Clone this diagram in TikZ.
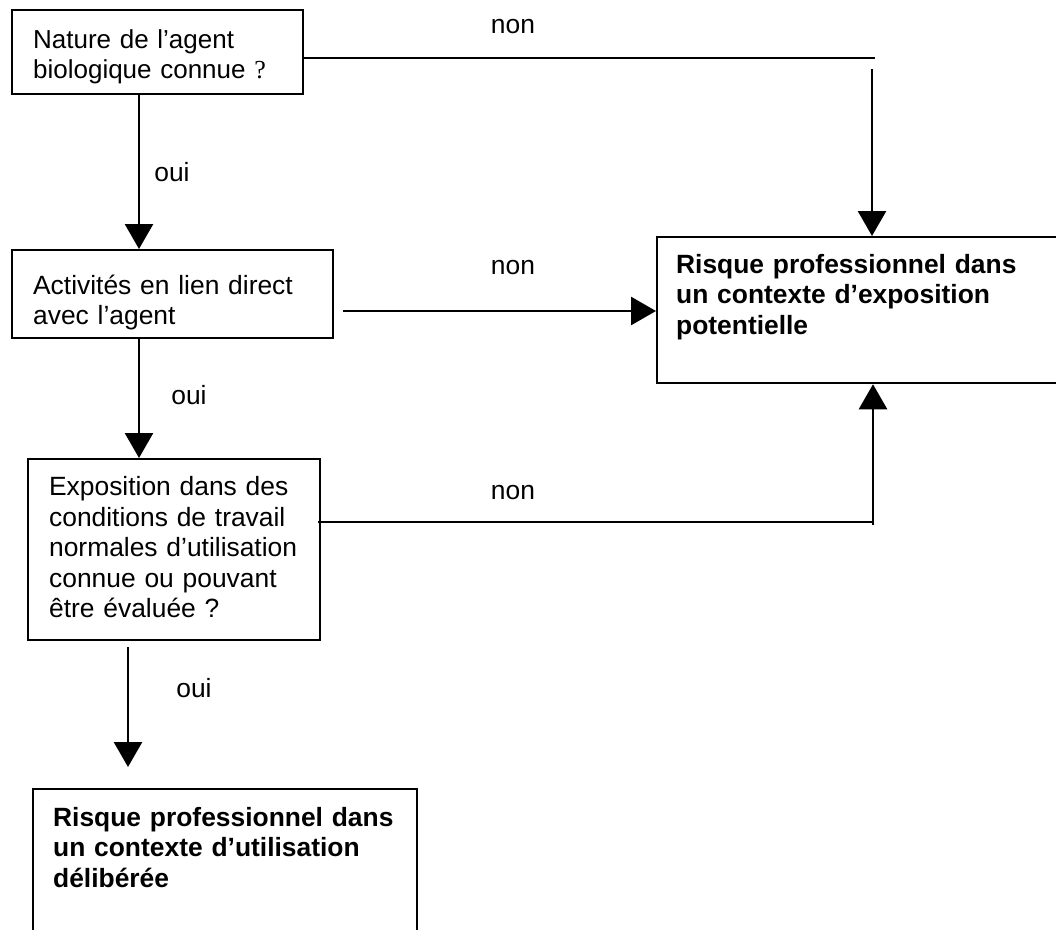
\documentclass[tikz,border=0pt]{standalone}
\usepackage{fontspec}
\setmainfont{Liberation Sans}
\newfontfamily\romain{Liberation Serif}
\usetikzlibrary{arrows.meta,positioning}

\tikzset{
  boite/.style={draw, line width=1.7pt, anchor=north west, align=left,
    text height=15pt},
  fleche/.style={line width=2pt, -{Triangle[width=21pt,length=18.75pt]}},
  trait/.style={line width=1.2pt},
  etiq/.style={inner sep=0pt}
}

\begin{document}
\begin{tikzpicture}[x=0.75pt,y=-0.75pt,font=\fontsize{19.8}{22.9}\selectfont]
\path[use as bounding box,clip] (0,0) rectangle (1056,929);

% boites
\node[boite, font=\fontsize{19.5}{22.9}\selectfont, inner xsep=15.75pt, inner ysep=13.5pt,
  text width=186.75pt, text depth=21pt] (nature) at (11,9)
  {Nature de l’agent\\ biologique connue {\romain ?}};
\node[boite, inner xsep=15.75pt, inner ysep=18pt, text width=209.25pt,
  text depth=15pt] (activite) at (11,249)
  {Activités en lien direct\\ avec l’agent};
\node[boite, inner xsep=15.75pt, inner ysep=12.4pt, text width=187.5pt,
  text depth=96pt] (exposition) at (27,458)
  {Exposition dans des\\ conditions de travail\\ normales d’utilisation\\
   connue ou pouvant\\ être évaluée ?};
\node[boite, font=\fontsize{19.8}{22.9}\selectfont\bfseries, inner xsep=14.25pt,
  inner ysep=12pt, text width=282pt, text depth=70.5pt] (potentielle) at (656,236)
  {Risque professionnel dans\\ un contexte d’exposition\\ potentielle};
\node[boite, font=\fontsize{19.8}{22.9}\selectfont\bfseries, inner xsep=15pt,
  inner ysep=12.75pt, text width=258pt, text depth=118pt] (utilisation) at (32,788)
  {Risque professionnel dans\\ un contexte d’utilisation\\ délibérée};

% points de depart des traits
\coordinate (coin1) at (875,58);
\coordinate (dep1) at (872,69);
\coordinate (dep2) at (139,95);
\coordinate (dep3) at (343,311);
\coordinate (dep4) at (139,340);
\coordinate (coin2) at (873,522);
\coordinate (dep5) at (128,647);

% liaisons
\draw[trait] (coin1 -| nature.east) -- (coin1);
\draw[fleche] (dep1) -- (dep1 |- potentielle.north);
\draw[fleche] (dep2 |- nature.south) -- (dep2 |- activite.north);
\draw[fleche] (dep3) -- (dep3 -| potentielle.west);
\draw[fleche] (dep4 |- activite.south) -- (dep4 |- exposition.north);
\draw[trait] ([xshift=-2.5pt]coin2 -| exposition.east) -- (coin2);
\draw[fleche] ([yshift=-2.25pt]coin2) -- (coin2 |- potentielle.south);
\draw[fleche, shorten >=15.75pt] (dep5) -- (dep5 |- utilisation.north);

% etiquettes
\node[etiq] (non1) at (513,27) {non};
\node[etiq] (non2) at (513,268) {non};
\node[etiq] (non3) at (513,493) {non};
\node[etiq] (oui1) at (172,172) {oui};
\node[etiq] (oui2) at (189,395) {oui};
\node[etiq] (oui3) at (194,688) {oui};
\end{tikzpicture}
\end{document}
